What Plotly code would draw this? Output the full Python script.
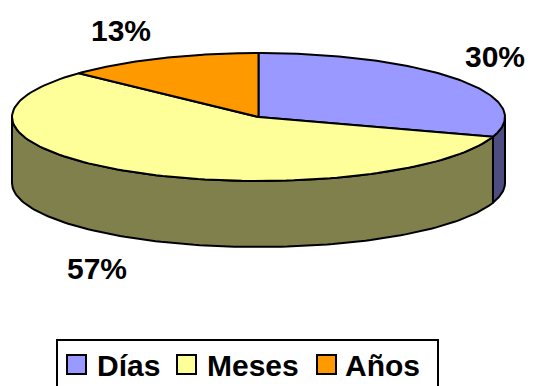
import numpy as np
import plotly.graph_objects as go

# Data
categories = ["Días", "Meses", "Años"]
values = [30, 57, 13]
top_colors = ["#9999FF", "#FFFF99", "#FF9900"]
side_colors = ["#4D4D80", "#80804D", "#804D00"]

# Pie geometry (pixel space of the canvas)
W, H = 533, 386
cx, cy, rx, ry, depth = 258.5, 117.0, 246.5, 64.0, 66.0
label_pos = [(495, 56), (97, 268), (121, 30)]
FONT = "Liberation Sans, Arial, sans-serif"


def rim(a, b, dy=0.0, n=120):
    t = np.radians(np.linspace(a, b, n))
    return cx + rx * np.sin(t), cy - ry * np.cos(t) + dy


total = float(sum(values))
bounds = np.concatenate([[0.0], np.cumsum(values) / total * 360.0])

fig = go.Figure()

# Side walls (front half of the cylinder: 90..270 deg clockwise from top)
for i, cat in enumerate(categories):
    a, b = max(bounds[i], 90.0), min(bounds[i + 1], 270.0)
    if a >= b:
        continue
    xt, yt = rim(a, b)
    xb, yb = rim(b, a, depth)
    fig.add_trace(go.Scatter(
        x=np.concatenate([xt, xb, xt[:1]]), y=np.concatenate([yt, yb, yt[:1]]),
        mode="lines", fill="toself", fillcolor=side_colors[i],
        line=dict(color="black", width=2), hoverinfo="skip", showlegend=False))

# Top faces
for i, cat in enumerate(categories):
    xs, ys = rim(bounds[i], bounds[i + 1])
    fig.add_trace(go.Scatter(
        x=np.concatenate([[cx], xs, [cx]]), y=np.concatenate([[cy], ys, [cy]]),
        mode="lines", fill="toself", fillcolor=top_colors[i],
        line=dict(color="black", width=2), name=cat,
        hovertemplate=f"{cat}: {values[i]}%<extra></extra>", showlegend=False))

# Percent labels
for i, v in enumerate(values):
    fig.add_annotation(x=label_pos[i][0], y=label_pos[i][1], text=f"<b>{v}%</b>",
                       showarrow=False, font=dict(family=FONT, size=30, color="black"),
                       xanchor="center", yanchor="middle")

# Legend box
shapes = [dict(type="rect", x0=57, x1=438, y0=340, y1=400, xref="x", yref="y",
               line=dict(color="black", width=2), fillcolor="white", layer="below")]
sw_x = [67, 177, 317]
tx_x = [95, 205, 343]
for i, cat in enumerate(categories):
    shapes.append(dict(type="rect", x0=sw_x[i], x1=sw_x[i] + 19, y0=355, y1=374,
                       xref="x", yref="y", line=dict(color="black", width=2),
                       fillcolor=top_colors[i]))
    fig.add_annotation(x=tx_x[i], y=365, text=f"<b>{cat}</b>", showarrow=False,
                       font=dict(family=FONT, size=30, color="black"),
                       xanchor="left", yanchor="middle")

fig.update_layout(
    width=W, height=H, margin=dict(l=0, r=0, t=0, b=0),
    paper_bgcolor="white", plot_bgcolor="white", shapes=shapes,
    xaxis=dict(range=[0, W], visible=False, fixedrange=True),
    yaxis=dict(range=[H, 0], visible=False, fixedrange=True),
    showlegend=False,
)

fig.write_html("out.html")
